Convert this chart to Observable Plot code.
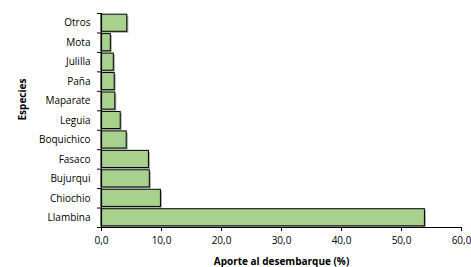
<!DOCTYPE html>
<html><head><meta charset="utf-8">
<script src="https://cdn.jsdelivr.net/npm/d3@7"></script>
<script src="https://cdn.jsdelivr.net/npm/@observablehq/plot@0.6"></script>
<style>body{margin:0;background:#fff;} svg{display:block;}</style>
</head><body><div id="chart"></div>
<script>
const especies = ["Llambina","Chiochio","Bujurqui","Fasaco","Boquichico","Leguia","Maparate","Paña","Julilla","Mota","Otros"];
const aporte = [53.9, 9.9, 8.05, 7.9, 4.2, 3.2, 2.3, 2.2, 2.05, 1.55, 4.3];
const xTicks = [0, 10, 20, 30, 40, 50, 60];

const data = especies.map((e, i) => ({especie: e, valor: aporte[i], i}));
const pad = 0.06;
const font = "'Open Sans', 'Liberation Sans', sans-serif";

const chart = Plot.plot({
  width: 471, height: 267,
  marginLeft: 101, marginRight: 10, marginTop: 13, marginBottom: 40,
  style: {fontFamily: font, fontSize: "10px", color: "#000", background: "#fff"},
  x: {domain: [0, 60]},
  y: {domain: [0, especies.length]},
  marks: [
    Plot.rectX(data, {x1: 0, x2: "valor", y1: d => d.i + pad, y2: d => d.i + 1 - pad, fill: "#7f7f7f", fillOpacity: 0.7, dx: 1.5, dy: 1.5}),
    Plot.rectX(data, {x1: 0, x2: "valor", y1: d => d.i + pad, y2: d => d.i + 1 - pad, fill: "#a9d18e", stroke: "#000", strokeWidth: 1}),
    Plot.axisX({ticks: xTicks, tickFormat: d => d3.format(".1f")(d).replace(".", ","), tickSize: 4, tickPadding: 5, label: null, fontSize: 10}),
    Plot.axisY({ticks: d3.range(0, especies.length + 1), tickFormat: () => "", tickSize: 4, label: null}),
    Plot.axisY({ticks: especies.map((e, i) => i + 0.5), tickFormat: d => especies[Math.floor(d)], tickSize: 0, tickPadding: 11, label: null, fontSize: 10}),
    Plot.ruleX([0], {y1: 0, y2: especies.length, stroke: "#000", strokeWidth: 1.2}),
    Plot.ruleY([0], {x1: 0, x2: 60, stroke: "#000", strokeWidth: 1.2}),
    Plot.text(["Aporte al desembarque (%)"], {frameAnchor: "bottom", dy: 37, fontWeight: "bold", fontSize: 10}),
    Plot.text(["Especies"], {frameAnchor: "left", dx: -79, rotate: -90, fontWeight: "bold", fontSize: 10})
  ]
});
document.getElementById("chart").append(chart);
</script></body></html>
